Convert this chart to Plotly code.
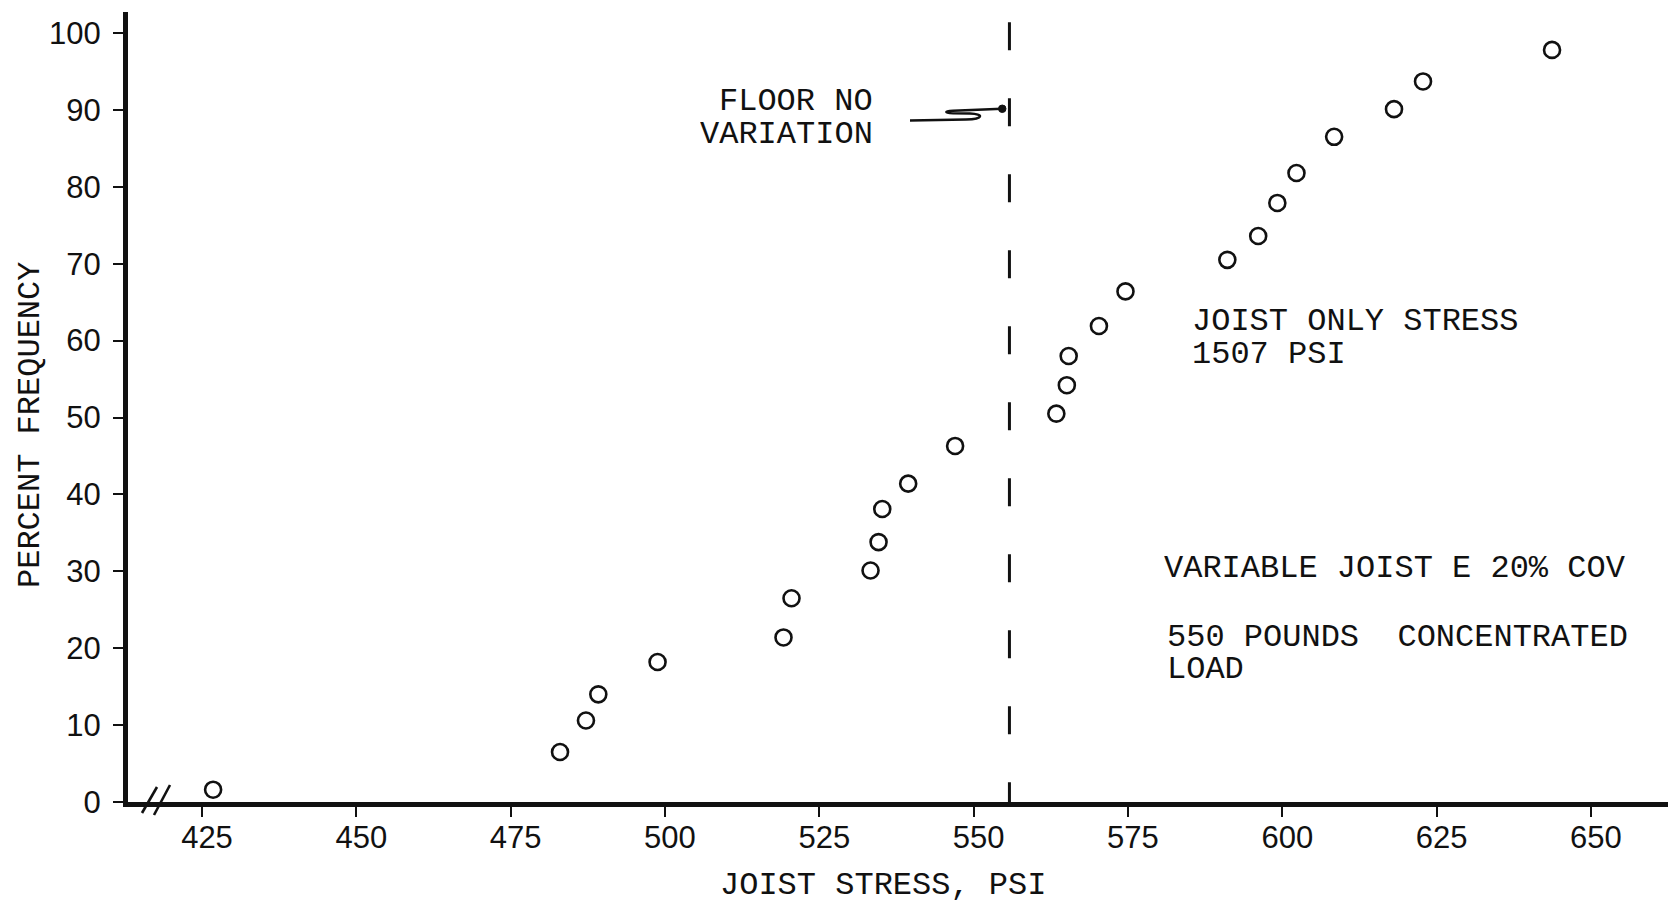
import plotly.graph_objects as go

# ---- data ----
joist_stress = [426.8, 483.0, 487.2, 489.2, 498.8, 519.2, 520.5, 533.3, 534.6, 535.2,
                539.4, 547.0, 563.4, 565.1, 565.4, 570.3, 574.6, 591.1, 596.1, 599.2,
                602.3, 608.4, 618.1, 622.8, 643.7]
percent_freq = [1.6, 6.5, 10.6, 14.0, 18.2, 21.4, 26.5, 30.1, 33.8, 38.1,
                41.4, 46.3, 50.5, 54.2, 58.0, 61.9, 66.4, 70.5, 73.6, 77.9,
                81.8, 86.5, 90.1, 93.7, 97.8]
floor_no_variation = 555.8
x_ticks = [425, 450, 475, 500, 525, 550, 575, 600, 625, 650]
y_ticks = [0, 10, 20, 30, 40, 50, 60, 70, 80, 90, 100]

W, H = 1668, 910
L, R, T, B = 128, 0, 12, 108
PW, PH = W - L - R, H - T - B

def px_x(px):
    return (px - L) / PW

def px_y(py):
    return (H - B - py) / PH

INK = "#111111"
MONO = "Liberation Mono, Courier New, monospace"
SANS = "Liberation Sans, Arial, sans-serif"

fig = go.Figure()
fig.add_trace(go.Scatter(
    x=joist_stress, y=percent_freq, mode="markers",
    marker=dict(symbol="circle-open", size=16, color=INK, line=dict(width=2.6, color=INK)),
    showlegend=False, cliponaxis=False, hoverinfo="skip",
))

# dashed "floor no variation" line
fig.add_shape(type="line", xref="x", yref="y", x0=floor_no_variation, x1=floor_no_variation,
              y0=101.4, y1=0, line=dict(color=INK, width=3, dash="28px,48px"))

# leader with squiggle to the dashed line
coords = [(910, 120.5), (966, 119.5), (984, 119), (984, 114), (970, 113.5), (953, 113.2),
          (944, 113), (944, 111), (953, 110.8), (1002, 108.8)]
segs = []
for i, (a, b) in enumerate(coords):
    p = f"{px_x(a):.5f},{px_y(b):.5f}"
    if i == 0:
        segs.append("M " + p)
    elif i in (1, 5, 9):
        segs.append("L " + p)
    elif i in (2, 6):
        segs.append("C " + p)
    else:
        segs.append(p)
fig.add_shape(type="path", xref="paper", yref="paper", path=" ".join(segs),
              line=dict(color=INK, width=2.4))
fig.add_shape(type="circle", xref="paper", yref="paper",
              x0=px_x(998.5), x1=px_x(1006), y0=px_y(105), y1=px_y(112.5),
              fillcolor=INK, line=dict(color=INK, width=1))

# axis break marks
for (a, b, c, d) in [(142, 813, 157, 787), (154, 815, 170, 785)]:
    fig.add_shape(type="line", xref="paper", yref="paper",
                  x0=px_x(a), y0=px_y(b), x1=px_x(c), y1=px_y(d),
                  line=dict(color=INK, width=2.6))

def note(text, px, py, anchor="left"):
    fig.add_annotation(text=text, xref="paper", yref="paper", x=px_x(px), y=px_y(py),
                       xanchor=anchor, yanchor="middle", showarrow=False, borderpad=0,
                       height=31, valign="middle",
                       font=dict(family=MONO, size=32, color=INK))

note("FLOOR NO", 874, 101, "right")
note("VARIATION", 874, 134, "right")
note("JOIST ONLY STRESS", 1191, 321)
note("1507 PSI", 1191, 354)
note("VARIABLE JOIST E 20% COV", 1163, 568)
note("550 POUNDS\u00a0\u00a0CONCENTRATED", 1166, 637)
note("LOAD", 1166, 669)

# axis titles
fig.add_annotation(text="JOIST STRESS, PSI", xref="paper", yref="paper",
                   x=px_x(883), y=px_y(886), xanchor="center", yanchor="middle",
                   showarrow=False, borderpad=0, font=dict(family=MONO, size=32, color=INK))
fig.add_annotation(text="PERCENT FREQUENCY", xref="paper", yref="paper",
                   x=px_x(30), y=px_y(425), xanchor="center", yanchor="middle",
                   textangle=-90, showarrow=False, borderpad=0,
                   font=dict(family=MONO, size=32, color=INK))

x_lo = 425 + (L - 202) / 6.173
x_hi = 425 + (W - 202) / 6.173
fig.update_xaxes(range=[x_lo, x_hi], tickvals=x_ticks, ticktext=[str(v) for v in x_ticks],
                 showline=True, linewidth=5, linecolor=INK, showgrid=False, zeroline=False,
                 ticks="outside", ticklen=10, tickwidth=2, tickcolor=INK,
                 ticklabelstandoff=-6, ticklabelshift=5,
                 tickfont=dict(family=SANS, size=31, color=INK))
fig.update_yaxes(range=[0, (H - B - T) / 7.69], tickvals=y_ticks,
                 showline=True, linewidth=5, linecolor=INK, showgrid=False, zeroline=False,
                 ticks="outside", ticklen=10, tickwidth=2, tickcolor=INK,
                 ticklabelstandoff=6, ticklabelshift=0,
                 tickfont=dict(family=SANS, size=31, color=INK))
fig.update_layout(width=W, height=H, margin=dict(l=L, r=R, t=T, b=B, pad=0),
                  plot_bgcolor="white", paper_bgcolor="white", showlegend=False)

fig.write_html("out.html", config={"displayModeBar": False},
               post_script="document.body.style.margin='0';document.body.style.overflow='hidden';")
